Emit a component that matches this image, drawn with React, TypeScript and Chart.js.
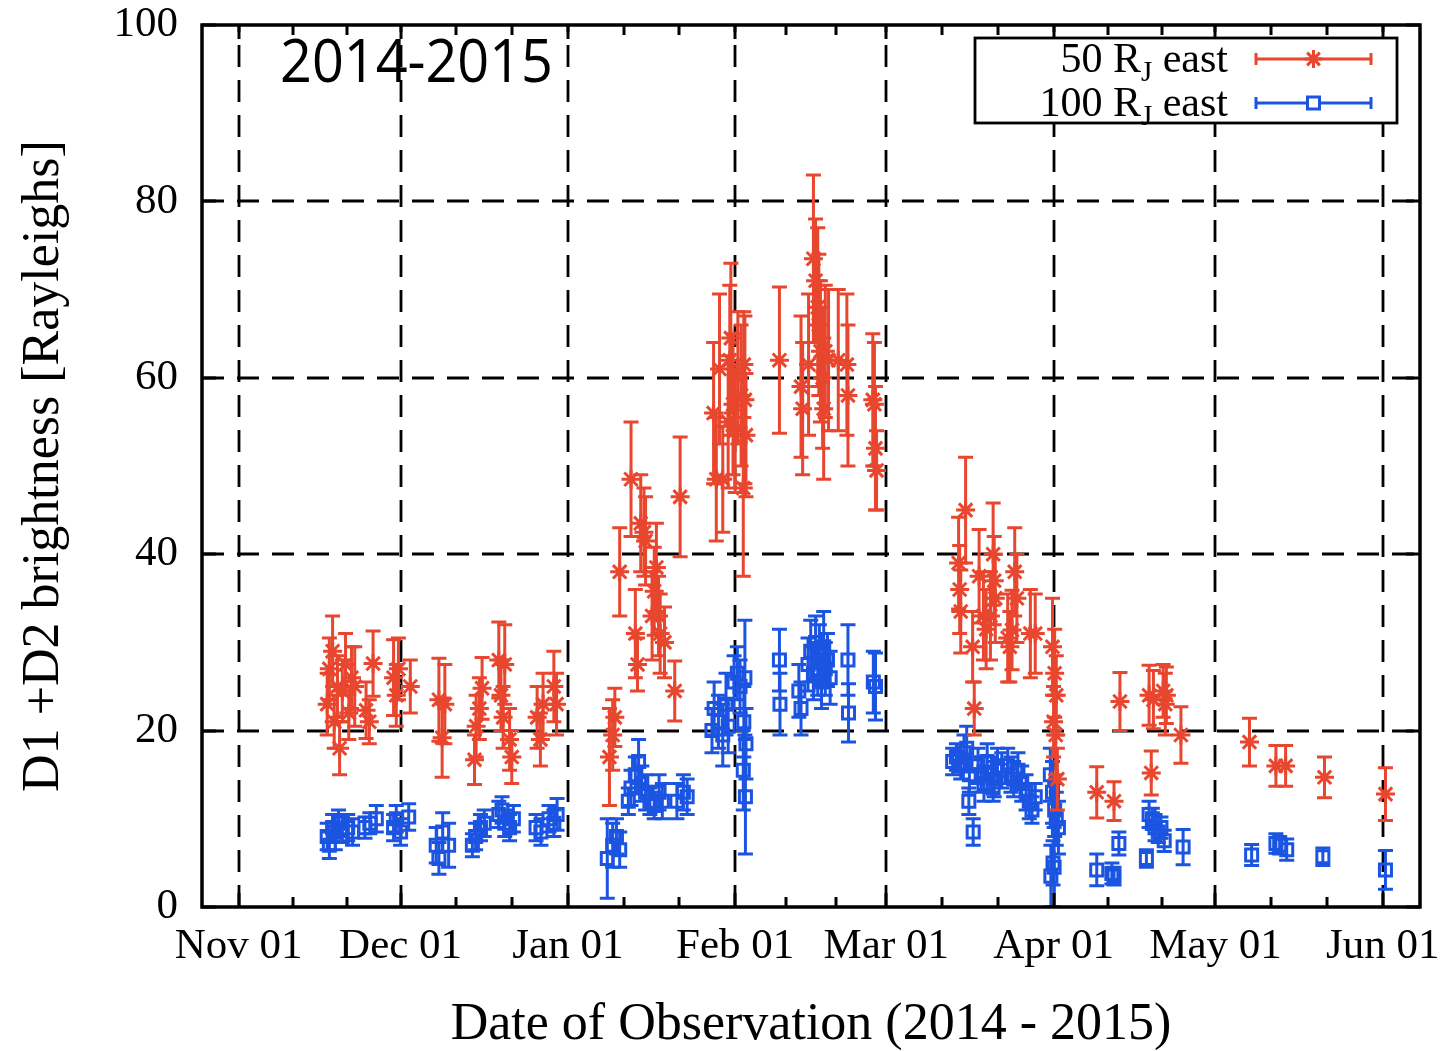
import { useEffect, useRef } from 'react';
import { Chart, registerables } from 'chart.js';

Chart.register(...registerables);

// x values are days counted from 1 Nov 2014
const monthDays = [0, 30, 61, 92, 120, 151, 181, 212];
const monthLabels = ['Nov 01', 'Dec 01', 'Jan 01', 'Feb 01', 'Mar 01', 'Apr 01', 'May 01', 'Jun 01'];
const yTicks = [0, 20, 40, 60, 80, 100];
const X_MIN = -6.8;
const X_MAX = 218.9;

// 50 R_J east
const redDays = [
  16.4, 16.8, 17.4, 17.7, 18.3, 18.7, 19.2, 19.8, 20.4, 20.9, 21.5,
  23.6, 24.2, 24.9, 28.7, 29.2, 29.6, 31.8,
  37.1, 37.7, 38.2, 43.7, 44.0, 44.6, 45.1, 48.2, 48.6, 49.0, 49.3, 50.2, 50.6, 55.3, 55.9, 56.4, 58.4, 58.9,
  68.7, 69.3, 69.7, 70.6, 72.7, 73.5, 73.9, 74.5, 75.1, 75.4, 76.6, 77.0, 77.4, 77.8, 78.1, 78.9, 80.8, 81.8,
  88.0, 88.5, 89.1, 89.7, 90.7, 91.0, 91.2, 91.6, 92.0, 92.5, 93.1, 93.6, 93.8, 93.5, 94.0, 100.2,
  104.2, 104.5, 105.6, 106.5, 106.9, 107.3, 107.5, 107.8, 108.2, 108.4, 108.7, 109.3, 111.1, 112.7, 112.9,
  117.5, 117.8, 118.0, 118.2,
  133.4, 133.6, 133.8, 134.7, 136.0, 136.3, 137.2, 138.0, 138.5, 139.3, 139.8, 140.0, 140.2, 142.5, 142.9,
  143.3, 143.8, 144.2, 146.7, 147.6,
  150.8, 151.0, 151.2, 151.4, 151.5, 151.7,
  159.0, 162.2, 163.3, 168.7, 169.1, 169.5, 171.3, 171.7, 171.9, 174.6, 187.3, 192.2, 194.0, 201.2, 212.5,
];
const redValues = [
  23, 27, 29, 21, 25, 18, 24.5, 27.5, 22, 26, 25,
  22.3, 21, 27.6, 26, 24, 27, 25,
  23.5, 19.2, 23, 16.7, 20.5, 22.5, 24.8, 28, 24, 21.5, 27.5, 19, 17, 21.5, 19, 23, 25, 23,
  17, 19.5, 21.5, 38, 48.5, 31, 27.5, 43.5, 42.5, 41.5, 33, 35.8, 38.5, 33, 31, 30, 24.5, 46.5,
  56, 48.5, 61, 48.5, 55, 62, 64.5, 57, 54, 60, 58, 61.5, 57.5, 47.5, 53.5, 62,
  59, 56.5, 61.5, 73.5, 71, 68, 66, 63, 60, 56.5, 63, 62, 62, 61.5, 58,
  57.5, 57, 52, 49.5,
  39, 36, 33.5, 45, 29.5, 22.5, 37.5, 33, 31.5, 33, 40, 37, 35, 30.5, 29.5,
  31.4, 38, 35, 31, 31,
  29.5, 21, 26.5, 19.5, 24, 14.5,
  13, 12, 23.3, 24, 15.2, 23.5, 24.5, 23, 24, 19.5, 18.7, 16, 16, 14.7, 12.8,
];
const redErrors = [
  3.5, 3.5, 4, 3, 3.5, 3, 3.5, 3.5, 3, 3.5, 4.5,
  3.2, 2.5, 3.7, 4.3, 3.5, 3.5, 3,
  4.7, 4.5, 4.5, 2.8, 3.5, 3.5, 3.5, 4.3, 4, 3.5, 4.5, 3.5, 3, 3.5, 3, 3.5, 4, 3.5,
  5.5, 4, 3.3, 5, 6.5, 5, 3, 5.5, 5, 5, 5, 5, 5, 4.5, 4.5, 4, 3.4, 6.8,
  8, 7, 8.5, 6, 7.5, 8.5, 8.5, 8, 7, 7.5, 8, 6, 9.5, 10, 7, 8.3,
  8, 7.5, 8, 9.5, 7, 9, 8, 8, 8, 8, 7.5, 8, 8, 8, 8,
  7.5, 7, 7, 4.5,
  5.2, 5, 4.7, 6, 4, 3, 5.3, 5, 4.5, 5, 5.8, 5, 5, 5, 4,
  4.5, 5, 5, 5, 4.5,
  5.5, 4, 5, 4.5, 4.5, 3.5,
  2.9, 2.2, 3.3, 3.4, 2.5, 3.3, 3, 3.5, 3.2, 3.2, 2.7, 2.3, 2.3, 2.3, 3,
];

// 100 R_J east
const blueDays = [
  16.4, 16.8, 17.4, 17.9, 18.5, 19.2, 20.2, 21.1, 23.4, 24.3, 25.5, 28.7, 29.2, 30.0, 31.5,
  36.6, 37.1, 37.8, 38.9, 43.3, 43.9, 44.8, 45.5, 48.2, 48.8, 49.3, 50.2, 50.9, 55.1, 56.0, 57.5, 58.4, 59.0,
  68.3, 69.3, 70.0, 70.6, 72.2, 72.7, 73.5, 74.1, 74.7, 75.4, 76.2, 77.0, 77.9, 78.5, 81.2, 82.4, 83.1,
  87.7, 88.1, 88.9, 89.7, 90.3, 90.7, 91.8, 92.4, 92.9, 93.8, 93.6, 94.0, 93.5, 93.9, 100.2, 100.3,
  103.8, 104.2, 105.5, 106.0, 106.5, 106.9, 107.3, 107.6, 108.0, 108.4, 108.7, 109.1, 109.6, 112.9, 113.0,
  117.6, 118.0,
  132.3, 133.0, 133.8, 134.4, 134.9, 135.3, 135.4, 136.1, 137.0, 137.6, 138.1, 138.7, 139.5, 139.8, 140.0,
  140.6, 141.4, 142.5, 143.1, 143.6, 144.4, 145.1, 145.9, 146.5, 147.0, 147.6,
  150.4, 150.8, 151.2, 151.5, 151.9, 150.9, 150.5, 151.1,
  159.0, 161.8, 162.2, 163.1, 168.2, 168.7, 169.3, 169.8, 170.4, 170.9, 171.5, 175.0,
  187.7, 192.2, 192.9, 194.2, 200.9, 212.5,
];
const blueValues = [
  8, 7, 9, 8.5, 9.5, 8.8, 9, 8.5, 9, 9.5, 10, 9, 10, 8.5, 10.2,
  7, 5.5, 8.5, 7, 7, 8, 9, 9.5, 10.5, 11, 9.5, 9, 10, 9, 8.5, 10, 9.5, 10.5,
  5.5, 7, 8, 6.5, 12, 13.5, 15, 16.5, 14, 13, 12, 11.5, 13, 12, 12, 13, 12.5,
  20, 22.5, 21, 19.5, 23, 20.5, 25.5, 26.5, 25, 26, 21, 18.5, 15.5, 12.5, 28, 23,
  24.5, 22.5, 27.5, 29, 26.5, 30, 27, 28.5, 25.5, 29.5, 27, 28, 26, 28, 22,
  25.5, 25,
  16.5, 17, 16, 17.5, 18, 12, 15, 8.5, 16, 15, 14, 16.5, 15, 13.5, 14.5,
  16, 15.5, 16, 15, 14.5, 15.5, 14, 13, 12, 11, 12.5,
  15, 13, 11, 10, 9, 5, 3.5, 4.5,
  4.2, 3.8, 3.5, 7.2, 5.5, 10.5, 10, 9, 8.5, 9, 7.5, 6.8,
  5.9, 7.2, 7, 6.5, 5.7, 4.2,
];
const blueErrors = [
  1.5, 1.5, 1.5, 2, 1.5, 1.5, 1.5, 1.5, 1.2, 1.2, 1.5, 1.5, 1.5, 1.5, 1.5,
  2, 1.8, 2.2, 2.5, 1.3, 1.5, 1.5, 1.5, 1.5, 1.5, 1.5, 1.5, 1.5, 1.5, 1.5, 1.5, 1.5, 1.8,
  4.5, 2.5, 2, 2, 1.5, 2, 2, 2.5, 2, 2, 1.5, 1.5, 2, 2, 2, 2, 2,
  2.5, 3, 3, 3.5, 3.5, 3, 3, 3, 3, 6.5, 4, 4, 4.5, 6.5, 3.5, 3.5,
  3, 3, 3, 3.5, 3, 3, 3, 3.5, 3, 4, 3, 3, 3, 4, 3.3,
  3.5, 3.8,
  1.5, 1.5, 1.5, 2, 2.5, 1.5, 2, 1.5, 2, 2, 2, 2, 2, 1.5, 2,
  2, 2, 2, 2, 2, 2, 2, 2, 2, 1.5, 1.5,
  3, 3.5, 3, 3, 3, 2.5, 3.5, 4.5,
  1.8, 1.2, 1, 1.3, 1, 1.5, 1.2, 1.5, 1.2, 1.2, 1.2, 2,
  1.2, 1.1, 1, 1.2, 1, 2.2,
];

const RED = '#e8462e';
const BLUE = '#1c54e2';
const SERIF = '"Liberation Serif", "DejaVu Serif", serif';
const MARK_WIDTH = 3;

const series = [
  { days: redDays, values: redValues, errors: redErrors, color: RED },
  { days: blueDays, values: blueValues, errors: blueErrors, color: BLUE },
];

function drawStar(ctx: CanvasRenderingContext2D, cx: number, cy: number, r: number) {
  ctx.beginPath();
  for (let k = 0; k < 4; k++) {
    const ang = (k * Math.PI) / 4;
    const dx = Math.cos(ang) * r;
    const dy = Math.sin(ang) * r;
    ctx.moveTo(cx - dx, cy - dy);
    ctx.lineTo(cx + dx, cy + dy);
  }
  ctx.stroke();
}

const decorPlugin = {
  id: 'decor',
  beforeDatasetsDraw(chart: any) {
    const { ctx, chartArea: a, scales } = chart;
    const x = scales.x;
    const y = scales.y;
    ctx.save();
    ctx.beginPath();
    ctx.rect(a.left, a.top, a.right - a.left, a.bottom - a.top);
    ctx.clip();
    ctx.strokeStyle = '#000';
    ctx.lineWidth = 2.8;
    ctx.setLineDash([22, 13]);
    for (const d of monthDays) {
      const px = Math.round(x.getPixelForValue(d));
      ctx.beginPath();
      ctx.moveTo(px, a.bottom);
      ctx.lineTo(px, a.top);
      ctx.stroke();
    }
    for (const v of yTicks) {
      if (v <= 0 || v >= 100) continue;
      const py = Math.round(y.getPixelForValue(v));
      ctx.beginPath();
      ctx.moveTo(a.left, py);
      ctx.lineTo(a.right, py);
      ctx.stroke();
    }
    ctx.restore();
  },
  beforeDatasetDraw(chart: any, args: any) {
    const s = series[args.index];
    if (!s) return;
    const { ctx, chartArea: a, scales } = chart;
    const x = scales.x;
    const y = scales.y;
    ctx.save();
    ctx.beginPath();
    ctx.rect(a.left, a.top, a.right - a.left, a.bottom - a.top);
    ctx.clip();
    ctx.strokeStyle = s.color;
    ctx.lineWidth = MARK_WIDTH;
    const cap = 7.5;
    for (let i = 0; i < s.days.length; i++) {
      const px = x.getPixelForValue(s.days[i]);
      const top = y.getPixelForValue(s.values[i] + s.errors[i]);
      const bot = y.getPixelForValue(s.values[i] - s.errors[i]);
      ctx.beginPath();
      ctx.moveTo(px, top);
      ctx.lineTo(px, bot);
      ctx.moveTo(px - cap, top);
      ctx.lineTo(px + cap, top);
      ctx.moveTo(px - cap, bot);
      ctx.lineTo(px + cap, bot);
      ctx.stroke();
    }
    ctx.restore();
  },
  afterDatasetsDraw(chart: any) {
    const { ctx, chartArea: a, scales } = chart;
    const x = scales.x;
    const y = scales.y;
    ctx.save();

    // inward tick marks on all four sides
    ctx.strokeStyle = '#000';
    ctx.lineWidth = 3;
    ctx.setLineDash([]);
    const minor: number[] = [];
    for (let i = 0; i < monthDays.length - 1; i++) {
      const span = monthDays[i + 1] - monthDays[i];
      minor.push(monthDays[i] + span / 3, monthDays[i] + (2 * span) / 3);
    }
    const drawXTick = (d: number, len: number) => {
      const px = Math.round(x.getPixelForValue(d));
      ctx.beginPath();
      ctx.moveTo(px, a.bottom);
      ctx.lineTo(px, a.bottom - len);
      ctx.moveTo(px, a.top);
      ctx.lineTo(px, a.top + len);
      ctx.stroke();
    };
    monthDays.forEach((d) => drawXTick(d, 14));
    minor.forEach((d) => drawXTick(d, 10));
    for (const v of yTicks) {
      const py = Math.round(y.getPixelForValue(v));
      ctx.beginPath();
      ctx.moveTo(a.left, py);
      ctx.lineTo(a.left + 14, py);
      ctx.moveTo(a.right, py);
      ctx.lineTo(a.right - 14, py);
      ctx.stroke();
    }

    // plot frame
    ctx.lineWidth = 3.5;
    ctx.strokeRect(a.left, a.top, a.right - a.left, a.bottom - a.top);

    // legend box
    const bx = a.right - 445;
    const by = a.top + 13;
    const bw = 422;
    const bh = 85;
    ctx.fillStyle = '#fff';
    ctx.fillRect(bx, by, bw, bh);
    ctx.lineWidth = 2.8;
    ctx.strokeStyle = '#000';
    ctx.strokeRect(bx, by, bw, bh);

    const rows = [
      { pre: '50 R', post: ' east', color: RED, kind: 'star' },
      { pre: '100 R', post: ' east', color: BLUE, kind: 'rect' },
    ];
    const textRight = bx + 253;
    const mainFont = `42px ${SERIF}`;
    const subFont = `29px ${SERIF}`;
    rows.forEach((r, i) => {
      const cy = by + 21 + i * 44;
      const base = cy + 13;
      ctx.font = mainFont;
      const wPre = ctx.measureText(r.pre).width;
      const wPost = ctx.measureText(r.post).width;
      ctx.font = subFont;
      const wSub = ctx.measureText('J').width;
      const start = textRight - (wPre + wSub + wPost);
      ctx.fillStyle = '#000';
      ctx.textBaseline = 'alphabetic';
      ctx.textAlign = 'left';
      ctx.font = mainFont;
      ctx.fillText(r.pre, start, base);
      ctx.font = subFont;
      ctx.fillText('J', start + wPre, base + 9);
      ctx.font = mainFont;
      ctx.fillText(r.post, start + wPre + wSub, base);

      const x1 = bx + 281;
      const x2 = bx + 396;
      const xm = (x1 + x2) / 2;
      ctx.strokeStyle = r.color;
      ctx.lineWidth = MARK_WIDTH;
      ctx.beginPath();
      ctx.moveTo(x1, cy);
      ctx.lineTo(x2, cy);
      ctx.moveTo(x1, cy - 6);
      ctx.lineTo(x1, cy + 6);
      ctx.moveTo(x2, cy - 6);
      ctx.lineTo(x2, cy + 6);
      ctx.stroke();
      if (r.kind === 'star') {
        drawStar(ctx, xm, cy, 9);
      } else {
        ctx.fillStyle = '#fff';
        ctx.fillRect(xm - 6, cy - 6, 12, 12);
        ctx.strokeRect(xm - 6, cy - 6, 12, 12);
      }
    });

    // season label
    ctx.fillStyle = '#000';
    ctx.font = '60px "Open Sans", "Noto Sans", sans-serif';
    ctx.textAlign = 'left';
    ctx.textBaseline = 'alphabetic';
    ctx.fillText('2014-2015', a.left + 78, a.top + 57, 273);

    // axis titles
    ctx.font = `52px ${SERIF}`;
    ctx.textAlign = 'center';
    ctx.textBaseline = 'middle';
    ctx.fillText('Date of Observation (2014 - 2015)', (a.left + a.right) / 2, a.bottom + 118);
    ctx.save();
    ctx.translate(44, (a.top + a.bottom) / 2);
    ctx.rotate(-Math.PI / 2);
    ctx.fillText('D1 +D2 brightness [Rayleighs]', 0, 0);
    ctx.restore();

    ctx.restore();
  },
};

export default function App() {
  const canvasRef = useRef<HTMLCanvasElement | null>(null);

  useEffect(() => {
    const canvas = canvasRef.current;
    if (!canvas) return;
    const chart = new Chart(canvas, {
      type: 'scatter',
      data: {
        datasets: [
          {
            label: '50 R_J east',
            data: redDays.map((d, i) => ({ x: d, y: redValues[i] })),
            pointStyle: 'star',
            pointRadius: 9.5,
            borderColor: RED,
            backgroundColor: RED,
            borderWidth: MARK_WIDTH,
            showLine: false,
          },
          {
            label: '100 R_J east',
            data: blueDays.map((d, i) => ({ x: d, y: blueValues[i] })),
            pointStyle: 'rect',
            pointRadius: 8.5,
            borderColor: BLUE,
            backgroundColor: 'rgba(0,0,0,0)',
            borderWidth: MARK_WIDTH,
            showLine: false,
          },
        ],
      },
      options: {
        responsive: false,
        animation: false,
        events: [],
        layout: { padding: { top: 25, right: 23, left: 0, bottom: 0 } },
        plugins: {
          legend: { display: false },
          tooltip: { enabled: false },
        },
        scales: {
          x: {
            type: 'linear',
            min: X_MIN,
            max: X_MAX,
            grid: { display: false, drawTicks: false },
            border: { display: false },
            afterBuildTicks: (s: any) => {
              s.ticks = monthDays.map((v) => ({ value: v }));
            },
            afterFit: (s: any) => {
              s.height = 144;
              s.paddingLeft = 0;
              s.paddingRight = 0;
            },
            ticks: {
              autoSkip: false,
              maxRotation: 0,
              minRotation: 0,
              padding: 14,
              color: '#000',
              font: { family: SERIF, size: 43 },
              callback: (v: any) => {
                const i = monthDays.indexOf(Number(v));
                return i >= 0 ? monthLabels[i] : '';
              },
            },
          },
          y: {
            type: 'linear',
            min: 0,
            max: 100,
            grid: { display: false, drawTicks: false },
            border: { display: false },
            afterBuildTicks: (s: any) => {
              s.ticks = yTicks.map((v) => ({ value: v }));
            },
            afterFit: (s: any) => {
              s.width = 202;
              s.paddingTop = 0;
              s.paddingBottom = 0;
            },
            ticks: {
              padding: 24,
              color: '#000',
              font: { family: SERIF, size: 43 },
            },
          },
        },
      },
      plugins: [decorPlugin],
    } as any);
    return () => chart.destroy();
  }, []);

  return (
    <div style={{ position: 'absolute', left: 0, top: 0, width: 1443, height: 1051, background: '#fff' }}>
      <canvas ref={canvasRef} width={1443} height={1051} style={{ display: 'block', width: 1443, height: 1051 }} />
    </div>
  );
}
